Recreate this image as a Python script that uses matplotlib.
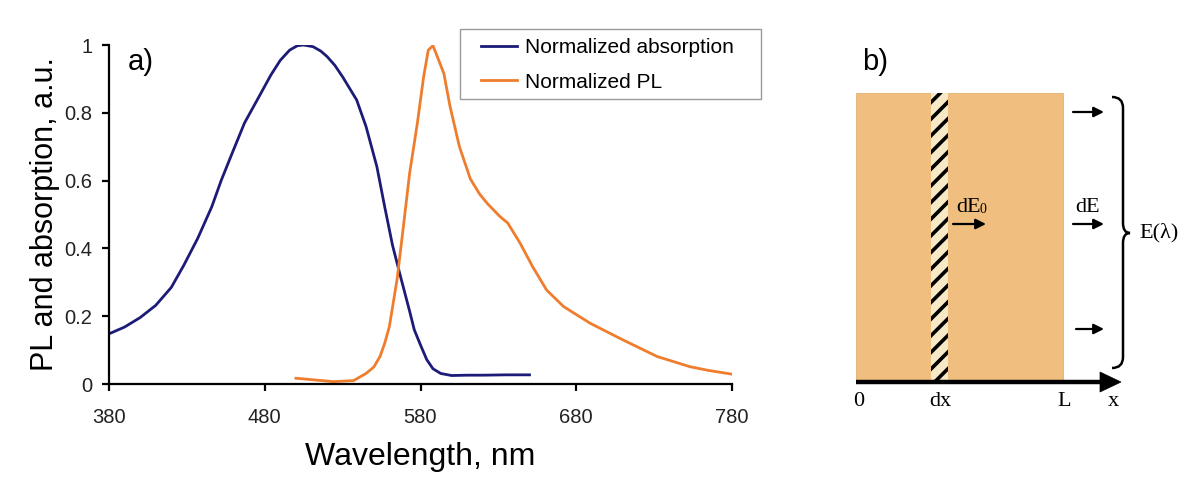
import matplotlib
matplotlib.use("Agg")
import matplotlib.pyplot as plt
from matplotlib.patches import Rectangle, Polygon, PathPatch, FancyArrowPatch
from matplotlib.path import Path

# ---------------- data ----------------
abs_wl = [380, 390, 400, 410, 420, 428, 437, 446, 452, 459, 467, 476, 484, 490,
          496, 501, 505, 511, 516, 520, 525, 530, 539, 545, 552, 557, 562, 567,
          573, 576, 580, 584, 588, 593, 600, 610, 620, 635, 650]
abs_val = [0.148, 0.168, 0.196, 0.232, 0.285, 0.35, 0.43, 0.523, 0.60, 0.68,
           0.77, 0.845, 0.912, 0.955, 0.985, 0.998, 1.0, 0.995, 0.982, 0.966,
           0.94, 0.906, 0.838, 0.76, 0.641, 0.523, 0.41, 0.32, 0.215, 0.16,
           0.115, 0.072, 0.045, 0.031, 0.025, 0.026, 0.026, 0.027, 0.027]

pl_wl = [500, 512, 524, 537, 545, 550, 554, 557, 560, 565, 569, 573, 578, 582,
         585, 588, 590, 595, 599, 605, 612, 618, 623, 631, 636, 644, 652, 661,
         672, 689, 710, 732, 753, 765, 780]
pl_val = [0.017, 0.012, 0.007, 0.01, 0.031, 0.05, 0.081, 0.12, 0.169, 0.31,
          0.464, 0.621, 0.77, 0.906, 0.985, 0.998, 0.975, 0.916, 0.818, 0.7,
          0.605, 0.56, 0.532, 0.494, 0.475, 0.415, 0.346, 0.277, 0.228, 0.179,
          0.13, 0.081, 0.051, 0.04, 0.029]

x_ticks = [380, 480, 580, 680, 780]
y_ticks = [0, 0.2, 0.4, 0.6, 0.8, 1]
y_ticklabels = ["0", "0.2", "0.4", "0.6", "0.8", "1"]
series_labels = ["Normalized absorption", "Normalized PL"]

BLUE = "#1c1c78"
ORANGE = "#ef7d2e"
SANS = ["Liberation Sans", "DejaVu Sans"]
SERIF = ["Liberation Serif", "DejaVu Serif"]

plt.rcParams["font.family"] = SANS
plt.rcParams["hatch.linewidth"] = 2.6

W, H = 1187, 486
fig = plt.figure(figsize=(W / 100, H / 100), dpi=100)
fig.patch.set_facecolor("white")

# ---------------- panel a ----------------
ax = fig.add_axes([109 / W, 1 - 384 / H, (732 - 109) / W, (384 - 45) / H])
l1, = ax.plot(abs_wl, abs_val, color=BLUE, lw=2.0, label=series_labels[0])
l2, = ax.plot(pl_wl, pl_val, color=ORANGE, lw=2.0, label=series_labels[1])
ax.set_xlim(380, 780)
ax.set_ylim(0, 1)
ax.set_xticks(x_ticks)
ax.set_yticks(y_ticks)
ax.set_yticklabels(y_ticklabels)
for s in ["top", "right"]:
    ax.spines[s].set_visible(False)
for s in ["left", "bottom"]:
    ax.spines[s].set_linewidth(1.6)
    ax.spines[s].set_color("black")
ax.tick_params(direction="out", length=5, width=1.6, labelsize=14.5,
               labelcolor="#222222")
ax.tick_params(axis="x", pad=12)
ax.tick_params(axis="y", pad=7)
ax.set_xlabel("Wavelength, nm", fontsize=23, labelpad=11)
ax.set_ylabel("PL and absorption, a.u.", fontsize=22, labelpad=3)
ax.text(0.03, 0.95, "a)", transform=ax.transAxes, fontsize=21, va="center",
        ha="left")

# legend (frame drawn separately to match the original's padding)
leg = fig.legend(handles=[l1, l2], loc="upper left",
                 bbox_to_anchor=(481 / W, 1 - 38 / H), fontsize=15,
                 frameon=False, handlelength=1.75, borderpad=0,
                 labelspacing=0.75, handletextpad=0.35, borderaxespad=0)
fig.add_artist(Rectangle((460 / W, 1 - 99 / H), 301 / W, 70 / H,
                         transform=fig.transFigure, facecolor="none",
                         edgecolor="#9a9a9a", lw=1.0))

# ---------------- panel b (schematic) ----------------
axb = fig.add_axes([0, 0, 1, 1])
axb.set_xlim(0, W)
axb.set_ylim(H, 0)
axb.axis("off")
axb.patch.set_alpha(0)

rx0, rx1, ry0, ry1 = 856, 1063, 93, 382
axb.add_patch(Rectangle((rx0, ry0), rx1 - rx0, ry1 - ry0,
                        facecolor="#f0bf80", edgecolor="#e2b070", lw=0.6))
sx0, sx1 = 931, 948
axb.add_patch(Rectangle((sx0, ry0), sx1 - sx0, ry1 - ry0,
                        facecolor="#f7e9c6", edgecolor="black", hatch="//",
                        lw=0.0))

# x axis arrow
axb.plot([rx0, 1102], [382, 382], color="black", lw=3.2, solid_capstyle="butt")
axb.add_patch(Polygon([[1100, 372], [1121, 382], [1100, 392]], closed=True,
                      facecolor="black", edgecolor="black", lw=0.5))


def arrow(x0, x1, y):
    axb.add_patch(FancyArrowPatch((x0, y), (x1, y), arrowstyle="-|>",
                                  mutation_scale=15, color="black", lw=1.6,
                                  shrinkA=0, shrinkB=0))


arrow(1073, 1104, 112)
arrow(1073, 1104, 224)
arrow(1076, 1104, 329)
arrow(953, 986, 224)

# brace
bx, tip = 1123, 233
verts = [(1112, 97), (bx, 97), (bx, 108),
         (bx, tip - 10),
         (bx, tip), (1130, tip),
         (bx, tip), (bx, tip + 10),
         (bx, 357),
         (bx, 368), (1112, 368)]
codes = [Path.MOVETO, Path.CURVE3, Path.CURVE3,
         Path.LINETO,
         Path.CURVE3, Path.CURVE3,
         Path.CURVE3, Path.CURVE3,
         Path.LINETO,
         Path.CURVE3, Path.CURVE3]
axb.add_patch(PathPatch(Path(verts, codes), facecolor="none",
                        edgecolor="black", lw=1.8))

tfs = 16
axb.text(859, 401, "0", family=SERIF, fontsize=tfs, ha="center", va="center")
axb.text(940, 401, "dx", family=SERIF, fontsize=tfs, ha="center", va="center")
axb.text(1064, 401, "L", family=SERIF, fontsize=tfs, ha="center", va="center")
axb.text(1113, 401, "x", family=SERIF, fontsize=tfs, ha="center", va="center")
axb.text(1088, 207, "dE", family=SERIF, fontsize=tfs, ha="center", va="center")
axb.text(956, 207, "dE", family=SERIF, fontsize=tfs, ha="left", va="center")
axb.text(979, 209, "0", family=SERIF, fontsize=10, ha="left", va="center")
axb.text(1139, 233, "E(λ)", family=SERIF, fontsize=tfs, ha="left",
         va="center")
axb.text(862, 62, "b)", fontsize=21, ha="left", va="center")

fig.savefig("out.png", dpi=100, facecolor="white")
